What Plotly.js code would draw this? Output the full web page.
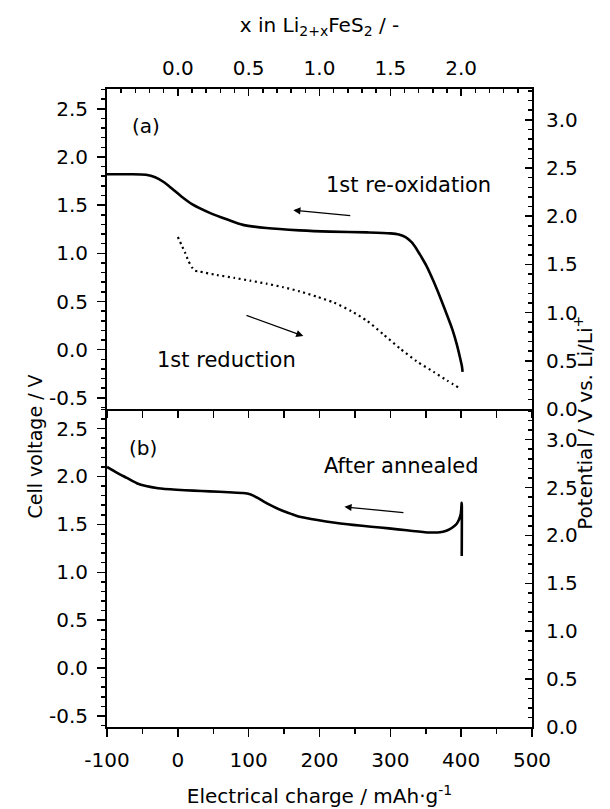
<!DOCTYPE html>
<html><head><meta charset="utf-8">
<script src="https://cdn.plot.ly/plotly-3.0.1.min.js"></script>
<style>html,body{margin:0;padding:0;background:#fff}#chart{width:610px;height:809px}</style>
</head><body><div id="chart"></div>
<script>
// Panel (a): 1st re-oxidation (solid)
const reoxCharge  = [-100, -70, -45, -32, -20, -8, 5, 20, 45, 70, 92, 125, 172, 215, 267, 300, 312, 322, 330, 337, 344, 351, 361, 370, 380, 388, 394, 398, 401, 402];
const reoxVoltage = [1.82, 1.82, 1.815, 1.79, 1.74, 1.67, 1.59, 1.51, 1.42, 1.35, 1.295, 1.262, 1.238, 1.225, 1.217, 1.207, 1.195, 1.165, 1.115, 1.045, 0.96, 0.87, 0.71, 0.55, 0.36, 0.2, 0.05, -0.07, -0.17, -0.23];
// Panel (a): 1st reduction (dotted)
const redCharge  = [0, 5, 10, 15, 20, 24, 31, 55, 80, 102, 125, 149, 172, 196, 220, 245, 267, 290, 314, 337, 361, 380, 398];
const redVoltage = [1.17, 1.09, 1.01, 0.92, 0.855, 0.82, 0.81, 0.775, 0.745, 0.716, 0.685, 0.648, 0.605, 0.55, 0.49, 0.40, 0.30, 0.16, 0.01, -0.12, -0.23, -0.32, -0.40];
// Panel (b): after annealed
const annealCharge  = [-100, -85, -72, -58, -45, -28, -2, 22, 45, 72, 92, 102, 112, 122, 135, 147, 160, 172, 197, 222, 247, 273, 298, 323, 340, 352, 362, 370, 378, 384, 390, 394, 397, 399.5, 400.8, 400.8];
const annealVoltage = [2.10, 2.035, 1.985, 1.93, 1.9, 1.878, 1.862, 1.852, 1.845, 1.835, 1.828, 1.815, 1.78, 1.735, 1.685, 1.645, 1.61, 1.58, 1.545, 1.517, 1.495, 1.476, 1.458, 1.438, 1.425, 1.416, 1.415, 1.418, 1.43, 1.45, 1.48, 1.51, 1.55, 1.61, 1.725, 1.17];

const chargeTickVals = [-100, 0, 100, 200, 300, 400, 500];
const chargeTickText = ["-100", "0", "100", "200", "300", "400", "500"];
const voltTickVals = [-0.5, 0, 0.5, 1, 1.5, 2, 2.5];
const voltTickText = ["-0.5", "0.0", "0.5", "1.0", "1.5", "2.0", "2.5"];
const potTickVals = [0, 0.5, 1, 1.5, 2, 2.5, 3];
const potTickText = ["0.0", "0.5", "1.0", "1.5", "2.0", "2.5", "3.0"];
const xLiTickVals = [0, 0.5, 1, 1.5, 2];
const xLiTickText = ["0.0", "0.5", "1.0", "1.5", "2.0"];

const F = "DejaVu Sans";
const K = "#000";
const base = {showgrid:false, zeroline:false, showline:true, linecolor:K, linewidth:2,
  tickcolor:K, tickwidth:1.5, tickfont:{family:F, size:20, color:K}, fixedrange:true};

const leftY = Object.assign({}, base, {range:[-0.615, 2.705], tickmode:'array', tickvals:voltTickVals, ticktext:voltTickText,
  ticks:'outside', ticklen:8, ticklabelstandoff:5,
  minor:{dtick:0.1, tick0:0, ticks:'outside', ticklen:4, tickwidth:1.5, tickcolor:K}});
const rightY = Object.assign({}, base, {range:[0, 3.32], tickmode:'array', tickvals:potTickVals, ticktext:potTickText,
  side:'right', ticks:'inside', ticklen:7, ticklabelstandoff:8,
  minor:{dtick:0.1, tick0:0, ticks:'inside', ticklen:4, tickwidth:1.5, tickcolor:K}});

const split = 0.4985;

const traces = [
  {x:reoxCharge, y:reoxVoltage, xaxis:'x2', yaxis:'y2', mode:'lines', line:{color:K, width:2.6, shape:'spline', smoothing:0.8}, hoverinfo:'skip'},
  {x:redCharge, y:redVoltage, xaxis:'x2', yaxis:'y2', mode:'lines', line:{color:K, width:2.2, dash:'2px,3.5px', shape:'spline', smoothing:0.6}, hoverinfo:'skip'},
  {x:annealCharge, y:annealVoltage, xaxis:'x', yaxis:'y', mode:'lines', line:{color:K, width:2.6, shape:'spline', smoothing:0.6}, hoverinfo:'skip'},
  {x:[], y:[], xaxis:'x3', yaxis:'y2', mode:'lines'},
  {x:[], y:[], xaxis:'x2', yaxis:'y3', mode:'lines'},
  {x:[], y:[], xaxis:'x', yaxis:'y4', mode:'lines'}
];

const annFont = {family:F, size:21, color:K};
const arrow = {text:'', showarrow:true, arrowhead:2, arrowsize:1.1, arrowwidth:1.3, arrowcolor:K, standoff:0, startstandoff:0};

const layout = {
  width:610, height:809,
  margin:{l:107, r:78, t:89, b:81.5},
  paper_bgcolor:'#fff', plot_bgcolor:'#fff', showlegend:false,
  font:{family:F, color:K},
  xaxis: Object.assign({}, base, {domain:[0,1], anchor:'y', range:[-100,500], tickmode:'array',
    tickvals:chargeTickVals, ticktext:chargeTickText, ticks:'outside', ticklen:8, ticklabelstandoff:6,
    minor:{dtick:50, tick0:0, ticks:'outside', ticklen:5, tickwidth:1.5, tickcolor:K},
    title:{text:'Electrical charge / mAh·g<sup>-1</sup>', font:{family:F, size:20, color:K}, standoff:18}}),
  yaxis: Object.assign({}, leftY, {domain:[0, split], anchor:'x'}),
  yaxis4: Object.assign({}, rightY, {overlaying:'y', anchor:'x'}),
  xaxis2: Object.assign({}, base, {domain:[0,1], anchor:'y2', range:[-100,500], showticklabels:false,
    tickmode:'linear', tick0:0, dtick:50, ticks:'outside', ticklen:7}),
  yaxis2: Object.assign({}, leftY, {domain:[split, 1], anchor:'x2'}),
  yaxis3: Object.assign({}, rightY, {overlaying:'y2', anchor:'x2'}),
  xaxis3: Object.assign({}, base, {overlaying:'x2', anchor:'y2', side:'top', range:[-0.5,2.5], tickmode:'array',
    tickvals:xLiTickVals, ticktext:xLiTickText, ticks:'inside', ticklen:7, ticklabelstandoff:4,
    minor:{dtick:0.1, tick0:0, ticks:'inside', ticklen:4, tickwidth:1.5, tickcolor:K},
    title:{text:'x in Li<sub>2+x</sub>FeS<sub>2</sub> / -', font:{family:F, size:20, color:K}, standoff:18}}),
  annotations: [
    {text:'(a)', xref:'x2', yref:'y2', x:-45, y:2.32, showarrow:false, font:{family:F, size:20, color:K}},
    {text:'(b)', xref:'x', yref:'y', x:-49, y:2.295, showarrow:false, font:{family:F, size:20, color:K}},
    {text:'1st re-oxidation', xref:'x2', yref:'y2', x:326, y:1.71, showarrow:false, font:annFont},
    {text:'1st reduction', xref:'x2', yref:'y2', x:69, y:-0.105, showarrow:false, font:annFont},
    {text:'After annealed', xref:'x', yref:'y', x:315.6, y:2.105, showarrow:false, font:annFont},
    Object.assign({}, arrow, {xref:'x2', yref:'y2', axref:'x2', ayref:'y2', x:163, y:1.448, ax:245.5, ay:1.389}),
    Object.assign({}, arrow, {xref:'x2', yref:'y2', axref:'x2', ayref:'y2', x:177.2, y:0.141, ax:94.8, ay:0.361}),
    Object.assign({}, arrow, {xref:'x', yref:'y', axref:'x', ayref:'y', x:235.2, y:1.683, ax:320.6, ay:1.621}),
    {text:'Cell voltage / V', xref:'paper', yref:'paper', x:-0.2007, y:0.4393, textangle:-90,
      showarrow:false, font:{family:F, size:19, color:K}},
    {text:'Potential / V vs. Li/Li<sup>+</sup>', xref:'paper', yref:'paper', x:1.1553, y:0.4769, textangle:-90,
      showarrow:false, font:{family:F, size:20, color:K}}
  ]
};

Plotly.newPlot('chart', traces, layout, {staticPlot:true, displayModeBar:false});
</script>
</body></html>
